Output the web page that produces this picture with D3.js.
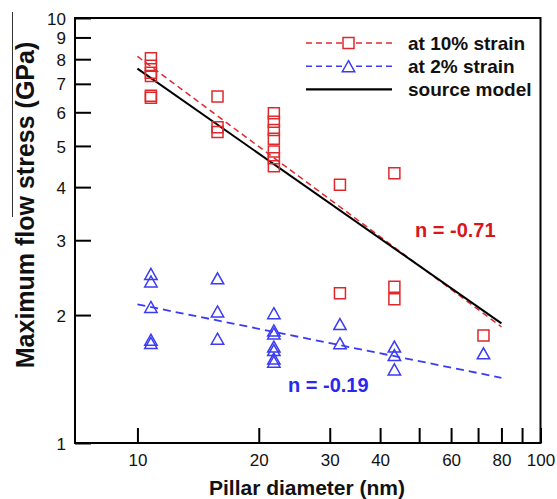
<!DOCTYPE html>
<html><head><meta charset="utf-8">
<script src="https://cdn.jsdelivr.net/npm/d3@7"></script>
<style>body{margin:0;background:#fff}svg{display:block}</style>
</head><body>
<svg id="c" width="557" height="499"></svg>
<script>
// ---- data ----
const squareDiam   = [10.8,10.8,10.8,10.8,10.8,10.8, 15.8,15.8,15.8, 21.8,21.8,21.8,21.8,21.8,21.8,21.8, 31.8,31.8, 43.4,43.4,43.4, 72.2];
const squareStress = [8.04,7.72,7.43,7.30,6.56,6.49, 6.54,5.53,5.39, 5.97,5.70,5.45,5.20,4.85,4.68,4.48, 4.05,2.25, 4.31,2.33,2.18, 1.79];
const triDiam   = [10.8,10.8,10.8,10.8,10.8, 15.8,15.8,15.8, 21.8,21.8,21.8,21.8,21.8,21.8,21.8, 31.8,31.8, 43.4,43.4,43.4, 72.2];
const triStress = [2.50,2.40,2.09,1.75,1.72, 2.44,2.04,1.76, 2.02,1.84,1.81,1.686,1.655,1.58,1.553, 1.905,1.717, 1.686,1.61,1.49, 1.626];
const fitDiam     = [10, 80];
const fit10       = [8.12, 1.877];
const fit2        = [2.12, 1.424];
const sourceModel = [7.60, 1.912];
const xTicks = [10,20,30,40,50,60,70,80,90,100];
const xLabels = [10,20,30,40,60,80,100];
const yTicks = [1,2,3,4,5,6,7,8,9,10];
const legendLabels = ["at 10% strain","at 2% strain","source model"];
const annot = ["n = -0.71","n = -0.19"];

// ---- drawing ----
const RED = "#e0282c", BLUE = "#3b3bf5", FONT = "Liberation Sans, Arial, sans-serif";
const svg = d3.select("#c");
const L = 75, R = 540.5, T = 18, B = 443;
const x = d3.scaleLog().domain([7,100]).range([L,R]);
const y = d3.scaleLog().domain([1,10]).range([B,T]);

// stray line at left edge
svg.append("line").attr("x1",12.5).attr("x2",12.5).attr("y1",12).attr("y2",217)
  .attr("stroke","#333").attr("stroke-width",1);

const xa = svg.append("g").attr("transform",`translate(0,${B})`)
  .call(d3.axisBottom(x).tickValues(xTicks).tickSizeInner(-15).tickSizeOuter(0).tickPadding(11)
    .tickFormat(d => xLabels.includes(d) ? d : ""));
const ya = svg.append("g").attr("transform",`translate(${L},0)`)
  .call(d3.axisLeft(y).tickValues(yTicks).tickSizeInner(-16).tickSizeOuter(0).tickPadding(9)
    .tickFormat(d => d));
[xa,ya].forEach(g => {
  g.attr("font-family",FONT).attr("font-size",17);
  g.selectAll("line").attr("stroke","#000").attr("stroke-width",2);
  g.selectAll("text").attr("fill","#111");
  g.select(".domain").remove();
});
ya.selectAll("text").attr("dy","0.36em");

// frame
svg.append("rect").attr("x",L).attr("y",T).attr("width",R-L).attr("height",B-T)
  .attr("fill","none").attr("stroke","#000").attr("stroke-width",2);

// fit lines
const line = d3.line().x(d=>x(d[0])).y(d=>y(d[1]));
const pairs = v => fitDiam.map((d,i)=>[d,v[i]]);
svg.append("path").attr("d",line(pairs(fit10))).attr("fill","none").attr("stroke",RED)
  .attr("stroke-width",1.5).attr("stroke-dasharray","6,4");
svg.append("path").attr("d",line(pairs(fit2))).attr("fill","none").attr("stroke",BLUE)
  .attr("stroke-width",1.8).attr("stroke-dasharray","8,5");
svg.append("path").attr("d",line(pairs(sourceModel))).attr("fill","none").attr("stroke","#000")
  .attr("stroke-width",2);

// markers
const S = 11;
const sq = (cx,cy) => `M${cx-S/2},${cy-S/2}h${S}v${S}h${-S}Z`;
const tri = (cx,cy) => `M${cx},${cy-5.5}L${cx+6.2},${cy+5.5}L${cx-6.2},${cy+5.5}Z`;
svg.append("g").selectAll("path").data(squareDiam.map((d,i)=>[d,squareStress[i]])).join("path")
  .attr("d",d=>sq(x(d[0]),y(d[1]))).attr("fill","none").attr("stroke",RED).attr("stroke-width",1.5);
svg.append("g").selectAll("path").data(triDiam.map((d,i)=>[d,triStress[i]])).join("path")
  .attr("d",d=>tri(x(d[0]),y(d[1]))).attr("fill","none").attr("stroke",BLUE).attr("stroke-width",1.5);

// legend
const lg = svg.append("g");
const rows = [{c:RED,dash:"6,4",m:"sq"},{c:BLUE,dash:"6,4",m:"tri"},{c:"#000",dash:null,m:null}];
rows.forEach((r,i)=>{
  const yy = 43 + i*23.2;
  const ln = lg.append("line").attr("x1",306).attr("x2",392).attr("y1",yy).attr("y2",yy)
    .attr("stroke",r.c).attr("stroke-width",r.dash?1.5:2.2);
  if (r.dash) ln.attr("stroke-dasharray",r.dash);
  if (r.m==="sq") lg.append("path").attr("d",sq(348.5,yy)).attr("fill","#fff").attr("stroke",r.c).attr("stroke-width",1.5);
  if (r.m==="tri") lg.append("path").attr("d",tri(348.5,yy)).attr("fill","#fff").attr("stroke",r.c).attr("stroke-width",1.5);
  lg.append("text").attr("x",408).attr("y",yy+6.5).text(legendLabels[i])
    .attr("font-family",FONT).attr("font-weight","bold").attr("font-size",19).attr("fill","#111");
});

// annotations
svg.append("text").attr("x",415).attr("y",237).text(annot[0]).attr("fill","#d8161c")
  .attr("font-family",FONT).attr("font-weight","bold").attr("font-size",20);
svg.append("text").attr("x",288).attr("y",392).text(annot[1]).attr("fill","#2828ee")
  .attr("font-family",FONT).attr("font-weight","bold").attr("font-size",20);

// axis titles
svg.append("text").attr("x",307).attr("y",495).attr("text-anchor","middle").text("Pillar diameter (nm)")
  .attr("font-family",FONT).attr("font-weight","bold").attr("font-size",21).attr("fill","#111");
svg.append("text").attr("transform","translate(34,205) rotate(-90)").attr("text-anchor","middle")
  .text("Maximum flow stress (GPa)")
  .attr("font-family",FONT).attr("font-weight","bold").attr("font-size",25).attr("fill","#111");
</script>
</body></html>
